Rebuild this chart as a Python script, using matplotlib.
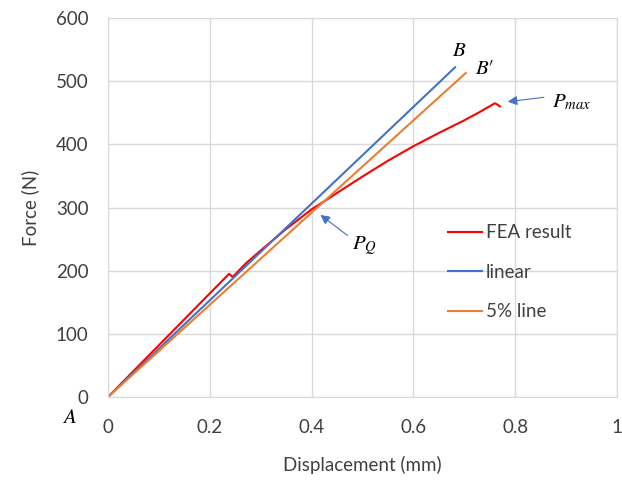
import matplotlib.pyplot as plt
import numpy as np

plt.rcParams['font.family'] = ['Lato', 'DejaVu Sans']
plt.rcParams['mathtext.fontset'] = 'stix'

# FEA curve
fea_x = [0.0, 0.10, 0.20, 0.238, 0.245, 0.27, 0.30, 0.35, 0.40, 0.45, 0.50,
         0.55, 0.60, 0.65, 0.70, 0.73, 0.76, 0.765, 0.77]
fea_y = [0.0, 82, 164, 195, 190, 211, 232, 266, 297, 323, 349,
         374, 397, 418, 438, 451, 465, 463, 460]

lin_x = [0.0, 0.682]
lin_y = [0.0, 522]

five_x = [0.0, 0.703]
five_y = [0.0, 513]

fig = plt.figure(figsize=(6.22, 4.8), dpi=100)
ax = fig.add_axes([0.1736, 0.1729, 0.8183, 0.7896])

ax.plot(fea_x, fea_y, color='#ff0000', lw=1.5, label='FEA result')
ax.plot(lin_x, lin_y, color='#4472c4', lw=1.5, label='linear')
ax.plot(five_x, five_y, color='#ed7d31', lw=1.5, label='5% line')

ax.set_xlim(0, 1)
ax.set_ylim(0, 600)
ax.set_xticks([0, 0.2, 0.4, 0.6, 0.8, 1])
ax.set_xticklabels(['0', '0.2', '0.4', '0.6', '0.8', '1'])
ax.set_yticks(range(0, 601, 100))
ax.grid(color='#d9d9d9', lw=1)
ax.set_axisbelow(True)
for s in ax.spines.values():
    s.set_color('#d9d9d9')
ax.tick_params(length=0, labelsize=13.5, colors='#404040')
ax.tick_params(axis='x', pad=16)
ax.tick_params(axis='y', pad=14)
ax.set_xlabel('Displacement (mm)', fontsize=13.5, color='#404040', labelpad=14)
ax.set_ylabel('Force (N)', fontsize=13.5, color='#404040', labelpad=12)

# annotations
ax.text(0.69, 549, '$B$', fontsize=15, ha='center', va='center')
ax.text(0.74, 521, "$B\\prime$", fontsize=15, ha='center', va='center')
ax.text(-0.075, -32, '$A$', fontsize=15, ha='center', va='center', clip_on=False)
ax.annotate('', xy=(0.413, 291), xytext=(0.475, 253),
            arrowprops=dict(arrowstyle='-|>', color='#4472c4', lw=0.8, mutation_scale=14))
ax.text(0.48, 240, '$P_Q$', fontsize=15, ha='left', va='center')
ax.annotate('', xy=(0.78, 467), xytext=(0.862, 475),
            arrowprops=dict(arrowstyle='-|>', color='#4472c4', lw=0.8, mutation_scale=14))
ax.text(0.872, 467, '$P_{max}$', fontsize=15, ha='left', va='center')

ax.legend(loc='upper left', bbox_to_anchor=(0.635, 0.50), frameon=False,
          labelspacing=1.2, handlelength=1.8, handletextpad=0.2, fontsize=13.5,
          labelcolor='#404040')

fig.savefig('out.png', dpi=100)
